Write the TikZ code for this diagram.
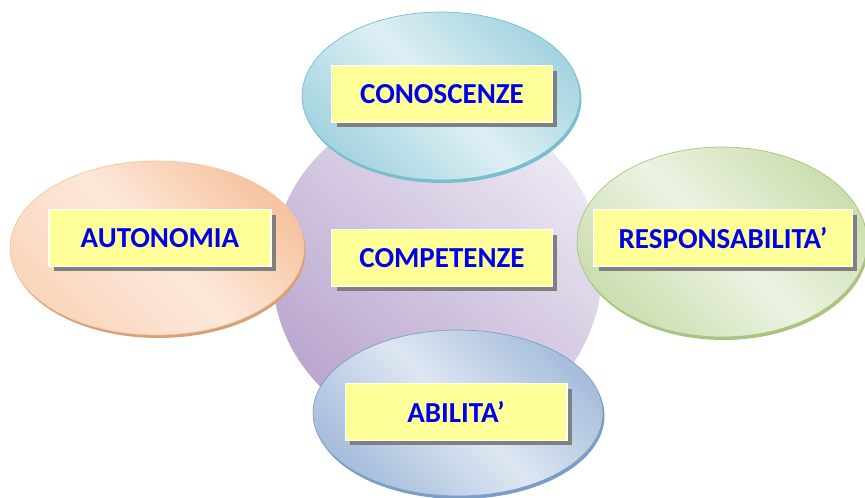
\documentclass[tikz,border=0pt]{standalone}
\usepackage{fontspec}
\setmainfont{Carlito}
\usetikzlibrary{shapes.geometric,shadows}

\definecolor{txtblue}{RGB}{0,0,235}
\definecolor{tagyellow}{RGB}{255,255,153}
\definecolor{tagshadow}{RGB}{128,128,128}
% central circle
\definecolor{purpleA}{RGB}{236,232,243}
\definecolor{purpleB}{RGB}{186,166,206}
% ellipses
\definecolor{cyanA}{RGB}{222,239,244}
\definecolor{cyanB}{RGB}{164,212,224}
\definecolor{cyanR}{RGB}{120,190,206}
\definecolor{orangeA}{RGB}{253,232,218}
\definecolor{orangeB}{RGB}{246,196,160}
\definecolor{orangeR}{RGB}{214,160,120}
\definecolor{greenA}{RGB}{236,243,226}
\definecolor{greenB}{RGB}{204,222,176}
\definecolor{greenR}{RGB}{168,196,128}
\definecolor{steelA}{RGB}{222,230,242}
\definecolor{steelB}{RGB}{166,190,220}
\definecolor{steelR}{RGB}{122,158,200}

\begin{document}
\begin{tikzpicture}[x=0.02cm,y=0.02cm,
  blob/.style={ellipse, inner sep=0em},
  tagbox/.style={rectangle, draw=white, line width=0.6pt, fill=tagyellow,
    minimum height=1.13cm, inner sep=0em, text=txtblue,
    font=\fontsize{16.5}{20}\selectfont\bfseries,
    drop shadow={shadow xshift=0.1cm, shadow yshift=-0.1cm,
      fill=tagshadow, opacity=1}}]

  \useasboundingbox (0,0) rectangle (865,497);

  % Central circle

  \node[circle, inner sep=0em, minimum size=6.6cm, top color=purpleA,
    bottom color=purpleB, shading angle=-40] (comp) at (437,227) {};

  % Outer ellipses

  \node[blob, minimum width=5.56cm, minimum height=3.36cm, draw=cyanR,
    top color=cyanB, bottom color=cyanB, middle color=cyanA, shading angle=-45,
    drop shadow={shadow xshift=0.03cm, shadow yshift=-0.06cm, fill=cyanR, opacity=1}]
    (cono) at (441,401) {};

  \node[blob, minimum width=5.88cm, minimum height=3.48cm, draw=orangeB,
    top color=orangeB, bottom color=orangeB!70, middle color=orangeA, shading angle=-45,
    drop shadow={shadow xshift=0.03cm, shadow yshift=-0.06cm, fill=orangeR, opacity=1}]
    (auto) at (157,249) {};

  \node[blob, minimum width=5.8cm, minimum height=3.8cm, draw=greenR,
    top color=greenB, bottom color=greenB, middle color=greenA, shading angle=-45,
    drop shadow={shadow xshift=0.03cm, shadow yshift=-0.06cm, fill=greenR, opacity=1}]
    (resp) at (722,255) {};

  \node[blob, minimum width=5.8cm, minimum height=3.32cm, draw=steelR,
    top color=steelB, bottom color=steelB, middle color=steelA, shading angle=-45,
    drop shadow={shadow xshift=0.03cm, shadow yshift=-0.06cm, fill=steelR, opacity=1}]
    (abil) at (458,84) {};

  % Labels

  \node[tagbox, minimum width=4.42cm] (tcomp) at (442,239) {COMPETENZE};
  \node[tagbox, minimum width=4.42cm] (tcono) at (442,403) {CONOSCENZE};
  \node[tagbox, minimum width=4.44cm] (tauto) at (160,259) {AUTONOMIA};
  \node[tagbox, minimum width=5.18cm] (tresp) at (723,259) {RESPONSABILITA’};
  \node[tagbox, minimum width=4.44cm] (tabil) at (456,85) {ABILITA’};

\end{tikzpicture}
\end{document}
